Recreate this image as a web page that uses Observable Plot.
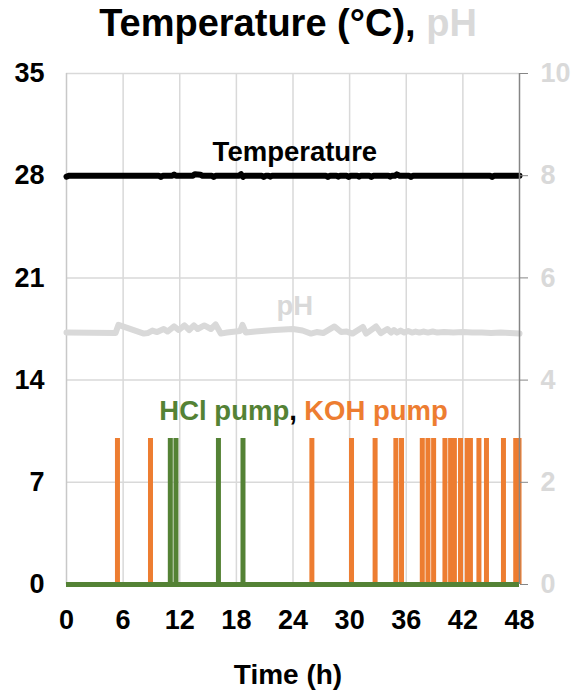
<!DOCTYPE html>
<html><head><meta charset="utf-8">
<script src="https://cdn.jsdelivr.net/npm/d3@7"></script>
<script src="https://cdn.jsdelivr.net/npm/@observablehq/plot@0.6"></script>
<style>
body{margin:0;background:#fff;font-family:"Liberation Sans",Arial,sans-serif;}
#title{width:576px;height:46px;text-align:center;font-weight:bold;font-size:38px;line-height:46px;color:#000;white-space:nowrap;}
#title span{color:#d9d9d9;}
</style></head><body>
<div id="title">Temperature (°C), <span>pH</span></div>
<div id="chart"></div>
<script>
// ---- data ----
const timeTicks = [0, 6, 12, 18, 24, 30, 36, 42, 48];
const tempTicks = [0, 7, 14, 21, 28, 35];
const phTicks = [0, 2, 4, 6, 8, 10];
const phToTemp = 35 / 10; // secondary axis ratio

// Temperature (°C) readings: [hour, value]
const temperature = [
  [0, 27.94], [0.3, 28.0], [9.8, 28.0], [10.0, 27.92], [10.2, 28.0], [11.2, 28.0], [11.4, 28.08], [11.6, 28.0],
  [13.4, 28.0], [13.6, 28.1], [14.2, 28.06], [14.4, 28.0], [15.4, 28.0], [15.6, 27.92], [15.8, 28.0],
  [18.3, 28.0], [18.5, 28.1], [18.7, 27.92], [18.9, 28.0], [20.7, 28.0], [20.9, 27.92], [21.1, 28.0],
  [21.4, 28.0], [21.6, 27.93], [21.8, 28.0], [27.5, 28.0], [27.7, 27.92], [27.9, 28.0], [28.6, 28.0], [28.8, 27.93], [29.0, 28.0],
  [29.7, 28.0], [29.9, 27.92], [30.1, 28.0], [30.8, 28.0], [31.0, 27.93], [31.2, 28.0], [32.1, 28.0], [32.3, 27.92], [32.5, 28.0],
  [34.1, 28.0], [34.3, 27.93], [34.5, 28.0], [34.8, 28.0], [35.0, 28.09], [35.3, 28.0], [36.3, 28.0], [36.5, 27.92], [36.7, 28.0],
  [44.9, 28.0], [45.1, 27.92], [45.3, 28.0], [48, 28.0]
];

// pH readings: [hour, pH]
const ph = [
  [0, 4.93], [5.2, 4.92], [5.5, 5.08], [8.2, 4.91], [8.6, 4.92], [9.1, 4.97], [9.6, 4.94], [10.3, 5.0],
  [10.7, 4.95], [11.4, 5.05], [11.9, 4.98], [12.5, 5.07], [13.0, 4.98], [13.5, 5.07], [13.9, 5.0],
  [14.6, 5.07], [15.3, 5.0], [15.8, 5.09], [16.35, 4.91], [17.0, 4.93], [18.4, 4.96], [18.65, 5.08],
  [19.0, 4.93], [20, 4.95], [22, 4.98], [24, 5.0], [25.0, 4.97], [25.9, 4.91], [26.5, 4.94], [27.2, 4.92],
  [28.4, 5.05], [29.1, 4.94], [29.7, 4.95], [30.3, 4.91], [31.4, 5.04], [31.75, 4.91], [32.8, 5.05],
  [33.3, 4.92], [34.0, 5.0], [34.4, 4.93], [34.7, 4.98], [35.0, 4.93], [35.4, 4.97], [35.8, 4.93],
  [36.2, 4.96], [36.6, 4.93], [37.0, 4.95], [37.4, 4.93], [37.8, 4.95], [38.3, 4.93], [38.8, 4.95],
  [39.3, 4.93], [40, 4.94], [41, 4.93], [42, 4.94], [43, 4.93], [44, 4.93], [45, 4.92], [46, 4.93], [47, 4.92], [48, 4.91]
];

// pump activation times (hours)
const hclPump = [11.0, 11.6, 16.1, 18.7];
const kohPump = [5.4, 8.9, 26.0, 30.2, 32.7, 34.9, 35.5, 37.7, 38.3, 38.9, 40.1, 40.7, 41.1, 41.75,
  42.45, 42.8, 43.7, 44.5, 46.3, 47.6, 47.95];
const pumpOn = 10;
const pumpOff = 0;

// in-chart series labels
const tempLabel = [{x: 24.2, y: 29.6, text: "Temperature"}];
const phLabel = [{x: 24.2, y: 19.05, text: "pH"}];
const pumpLabelPos = {x: 23.6, y: 11.9};
const hclLabel = ["HCl pump"];
const sepLabel = [","];
const kohLabel = ["KOH pump"];
const xLabel = "Time (h)";

// ---- chart ----
const green = "#548235", orange = "#ed7d31", grey = "#d9d9d9";
const lblFont = 27.5;
const chart = Plot.plot({
  width: 576, height: 650,
  marginTop: 27, marginBottom: 112, marginLeft: 66, marginRight: 57,
  style: {fontFamily: "'Liberation Sans', Arial, sans-serif", fontWeight: "bold", fontSize: "27px", background: "#fff", color: "#000"},
  x: {domain: [0, 48]},
  y: {domain: [0, 35]},
  marks: [
    Plot.gridX(timeTicks.filter(t => t > 0 && t < 48), {stroke: grey, strokeOpacity: 1, strokeWidth: 1.5}),
    Plot.gridY(tempTicks.filter(t => t > 0), {stroke: grey, strokeOpacity: 1, strokeWidth: 1.5}),
    Plot.ruleX([0], {stroke: "#c8c8c8", strokeWidth: 1.5}),
    Plot.line(ph, {x: d => d[0], y: d => d[1] * phToTemp, stroke: grey, strokeWidth: 6, strokeLinejoin: "round", strokeLinecap: "round"}),
    Plot.line(temperature, {x: d => d[0], y: d => d[1], stroke: "#000", strokeWidth: 6, strokeLinejoin: "round"}),
    Plot.ruleX(kohPump, {y1: pumpOff, y2: pumpOn, stroke: orange, strokeWidth: 5}),
    Plot.ruleX(hclPump, {y1: pumpOff, y2: pumpOn, stroke: green, strokeWidth: 5}),
    Plot.ruleY([pumpOff], {x1: 0, x2: 48, stroke: green, strokeWidth: 5}),
    Plot.ruleX([48], {stroke: "#868686", strokeWidth: 1.5}),
    Plot.axisX(timeTicks, {anchor: "bottom", tickSize: 0, tickPadding: 25, label: null, fontSize: 27}),
    Plot.axisY(tempTicks, {anchor: "left", tickSize: 0, tickPadding: 22, label: null, fontSize: 27}),
    Plot.axisY(phTicks.map(p => p * phToTemp), {anchor: "right", tickSize: 8, tickPadding: 13, label: null, fontSize: 27,
      stroke: "#868686", fill: grey, tickFormat: (d, i) => phTicks[i]}),
    Plot.text(tempLabel, {x: "x", y: "y", text: "text", fill: "#000", fontSize: lblFont, fontWeight: "bold"}),
    Plot.text(phLabel, {x: "x", y: "y", text: "text", fill: grey, fontSize: lblFont, fontWeight: "bold"}),
    Plot.text(hclLabel, {x: () => pumpLabelPos.x, y: () => pumpLabelPos.y, text: d => d, fill: green, textAnchor: "end", fontSize: lblFont, fontWeight: "bold"}),
    Plot.text(sepLabel, {x: () => pumpLabelPos.x, y: () => pumpLabelPos.y, text: d => d, fill: "#000", textAnchor: "start", fontSize: lblFont, fontWeight: "bold"}),
    Plot.text(kohLabel, {x: () => pumpLabelPos.x, y: () => pumpLabelPos.y, text: d => d, fill: orange, textAnchor: "start", dx: 15, fontSize: lblFont, fontWeight: "bold"}),
    Plot.text([xLabel], {frameAnchor: "bottom", lineAnchor: "middle", dx: -5, dy: 91, fontSize: 28, fontWeight: "bold"})
  ]
});
document.getElementById("chart").appendChild(chart);
</script>
</body></html>
